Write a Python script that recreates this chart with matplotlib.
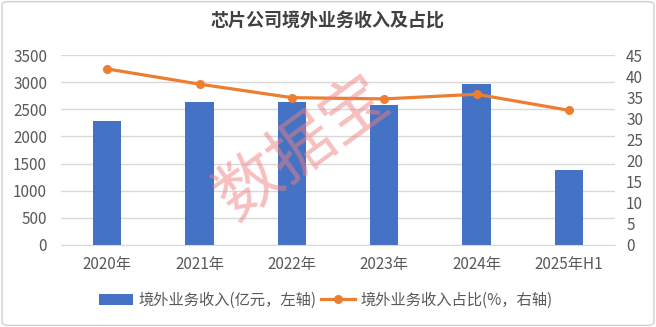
import matplotlib
matplotlib.use('Agg')
import matplotlib.pyplot as plt
from matplotlib.patches import FancyBboxPatch

plt.rcParams['font.family'] = ['Noto Sans CJK SC', 'DejaVu Sans']

# data
years = ['2020年', '2021年', '2022年', '2023年', '2024年', '2025年H1']
revenue = [2280, 2630, 2630, 2580, 2960, 1380]      # 亿元, left axis
share = [41.7, 38.1, 34.9, 34.6, 35.7, 31.9]         # %, right axis
left_ticks = [0, 500, 1000, 1500, 2000, 2500, 3000, 3500]
right_ticks = [0, 5, 10, 15, 20, 25, 30, 35, 40, 45]

blue = '#4472C4'
orange = '#ED7D31'
grey_text = '#595959'
grid_col = '#D9D9D9'

fig = plt.figure(figsize=(6.56, 3.27), dpi=100)
# light frame round the whole chart
fig.patches.append(FancyBboxPatch((0.003, 0.005), 0.994, 0.99,
    boxstyle='round,pad=0,rounding_size=0.01', transform=fig.transFigure,
    facecolor='white', edgecolor='#D0D0D0', linewidth=1, zorder=-10))

ax = fig.add_axes([0.093, 0.2508, 0.8445, 0.581])
x = list(range(len(years)))
ax.bar(x, revenue, width=0.31, color=blue, zorder=2,
       label='境外业务收入(亿元，左轴)')
ax.set_ylim(0, 3500)
ax.set_yticks(left_ticks)
ax.set_xlim(-0.5, len(years) - 0.5)
ax.set_xticks(x)
ax.set_xticklabels(years)
ax.grid(axis='y', color=grid_col, linewidth=1, zorder=0)
for s in ('top', 'left', 'right'):
    ax.spines[s].set_visible(False)
ax.spines['bottom'].set_color(grid_col)
ax.tick_params(length=0, labelsize=11, colors=grey_text)
ax.tick_params(axis='x', pad=8)
ax.tick_params(axis='y', pad=10)

ax2 = ax.twinx()
ax2.plot(x, share, color=orange, linewidth=2.3, marker='o', markersize=5.5,
         zorder=3, label='境外业务收入占比(%，右轴)')
ax2.set_ylim(0, 45)
ax2.set_yticks(right_ticks)
for s in ax2.spines.values():
    s.set_visible(False)
ax2.tick_params(length=0, labelsize=11, colors=grey_text, pad=8)

fig.text(0.5, 0.935, '芯片公司境外业务收入及占比', ha='center', va='center',
         fontsize=13, fontweight='bold', color='#404040')

h1, l1 = ax.get_legend_handles_labels()
h2, l2 = ax2.get_legend_handles_labels()
fig.legend(h1 + h2, l1 + l2, loc='center', bbox_to_anchor=(0.497, 0.082),
           ncol=2, frameon=False, fontsize=11, labelcolor=grey_text,
           handlelength=2.2, columnspacing=0.3, handletextpad=0.4)

# watermark
fig.text(0.462, 0.545, '数据宝', ha='center', va='center', fontsize=47,
         rotation=36, color='#F08080', alpha=0.5, zorder=10)

fig.savefig('out.png', dpi=100)
